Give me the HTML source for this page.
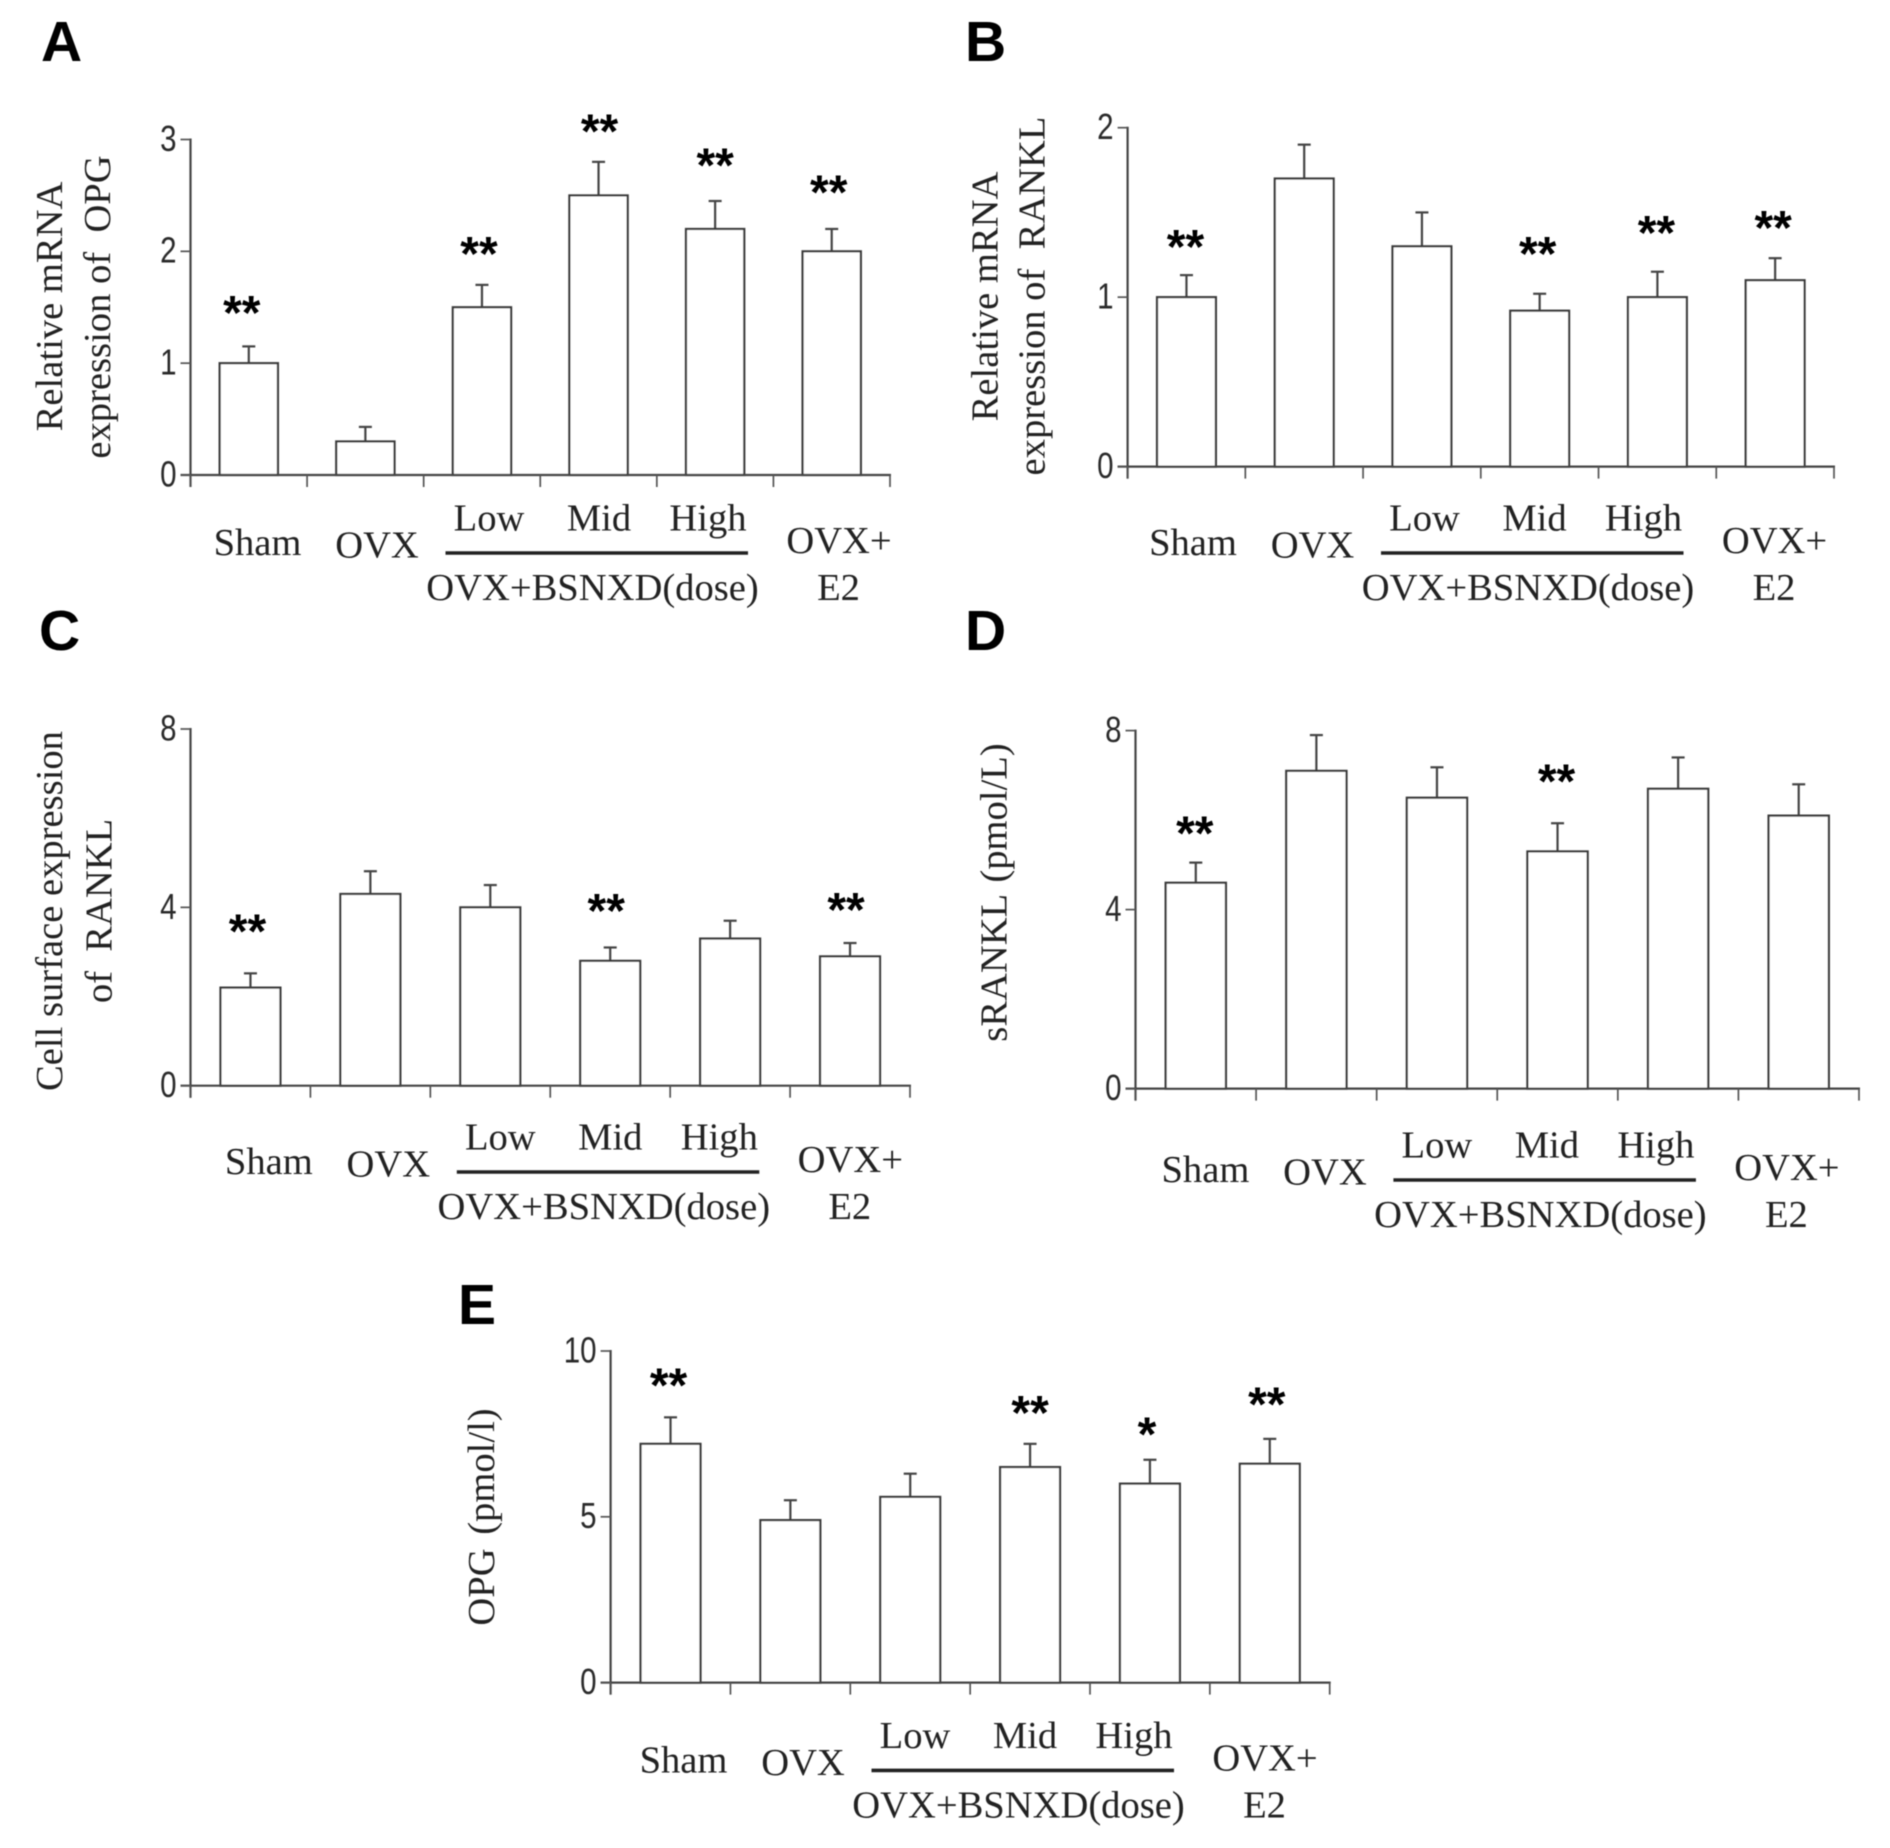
<!DOCTYPE html>
<html lang="en">
<head>
<meta charset="utf-8">
<title>OPG and RANKL expression bar charts</title>
<style>
  html, body { margin: 0; padding: 0; background: #fff; }
  svg { display: block; }
  .serif { font-family: "Liberation Serif", serif; font-size: 38.6px; fill: #222; }
  .tick { font-family: "Liberation Sans", sans-serif; font-size: 36px; fill: #2a2a2a; text-anchor: end; }
  .letter { font-family: "Liberation Sans", sans-serif; font-size: 57px; font-weight: bold; fill: #000; }
  .star { font-family: "Liberation Sans", sans-serif; font-size: 48px; font-weight: bold; fill: #000; text-anchor: middle; }
  .ax { stroke: #444; stroke-width: 2.2; fill: none; }
  .tk { stroke: #555; stroke-width: 1.7; fill: none; }
  .bar { stroke: #3a3a3a; stroke-width: 2.2; fill: #fff; }
</style>
</head>
<body>
<svg id="figure" xmlns="http://www.w3.org/2000/svg" width="1890" height="1848" viewBox="0 0 1890 1848">
  <defs><filter id="soft" x="-2%" y="-2%" width="104%" height="104%"><feGaussianBlur stdDeviation="0.65"/></filter></defs>
  <rect width="1890" height="1848" fill="#fff"/>
  <g id="root" filter="url(#soft)"></g>
</svg>
<script>
// Group names
const categories = ['Sham', 'OVX', 'Low', 'Mid', 'High', 'OVX+E2'];

// Panel A
const aValues = [1.0, 0.3, 1.5, 2.5, 2.2, 2.0];
const aErrors = [0.15, 0.13, 0.2, 0.3, 0.25, 0.2];
const aMarks = ['**', '', '**', '**', '**', '**'];
const aMarkLift = [0.36, null, 0.34, 0.335, 0.38, 0.39];
const aTicks = [0, 1, 2, 3];

// Panel B
const bValues = [1.0, 1.7, 1.3, 0.92, 1.0, 1.1];
const bErrors = [0.13, 0.2, 0.2, 0.1, 0.15, 0.13];
const bMarks = ['**', '', '', '**', '**', '**'];
const bMarkLift = [0.207, null, null, 0.275, 0.27, 0.22];
const bTicks = [0, 1, 2];

// Panel C
const cValues = [2.2, 4.3, 4.0, 2.8, 3.3, 2.9];
const cErrors = [0.32, 0.51, 0.5, 0.3, 0.4, 0.3];
const cMarks = ['**', '', '', '**', '', '**'];
const cMarkLift = [1.1, null, null, 0.97, null, 0.9];
const cTicks = [0, 4, 8];

// Panel D
const dValues = [4.6, 7.1, 6.5, 5.3, 6.7, 6.1];
const dErrors = [0.45, 0.8, 0.68, 0.63, 0.7, 0.7];
const dMarks = ['**', '', '', '**', '', ''];
const dMarkLift = [0.81, null, null, 1.09, null, null];
const dTicks = [0, 4, 8];

// Panel E
const eValues = [7.2, 4.9, 5.6, 6.5, 6.0, 6.6];
const eErrors = [0.8, 0.6, 0.7, 0.7, 0.72, 0.75];
const eMarks = ['**', '', '', '**', '*', '**'];
const eMarkLift = [1.17, null, null, 1.14, 0.98, 1.25];
const eTicks = [0, 5, 10];

const NS = 'http://www.w3.org/2000/svg';
const root = document.getElementById('root');

function add(parent, tag, props, text) {
  const el = document.createElementNS(NS, tag);
  for (const k in props) el.setAttribute(k, props[k]);
  if (text !== undefined) el.textContent = text;
  parent.appendChild(el);
  return el;
}

function drawPanel(p) {
  const g = add(root, 'g', {});
  
  

  const letter = add(g, 'text', { x: p.letterX, y: p.letterY, class: 'letter' }, p.id.toUpperCase());
  
  

  const yMax = p.ticks[p.ticks.length - 1];
  const yScale = v => p.y0 - (v / yMax) * (p.y0 - p.yTop);
  const band = (p.x1 - p.x0) / p.values.length;
  const xScale = i => p.x0 + band * (i + 0.5);
  const barW = band * 0.5;

  // bars and error bars
  p.values.forEach((v, i) => {
    const cx = xScale(i);
    const top = yScale(v + p.errors[i]);
    const stem = add(g, 'line', { x1: cx, x2: cx, y1: yScale(v), y2: top, class: 'ax' });
    
    
    const cap = add(g, 'line', { x1: cx - 6.5, x2: cx + 6.5, y1: top, y2: top, class: 'ax' });
    
    
    const bar = add(g, 'rect', { x: cx - barW / 2, y: yScale(v), width: barW, height: p.y0 - yScale(v), class: 'bar' });
    
    
    if (p.marks[i]) {
      const starCenter = yScale(v + p.errors[i] + p.lift[i]);
      const star = add(g, 'text', { x: cx + p.markShift[i], y: starCenter + 23, class: 'star' }, p.marks[i]);
      
      
    }
  });

  // axes
  const yAxis = add(g, 'line', { x1: p.x0, x2: p.x0, y1: p.yTop - 1, y2: p.y0 + 12, class: 'ax' });
  
  
  const xAxis = add(g, 'line', { x1: p.x0 - 10, x2: p.x1 + 1, y1: p.y0, y2: p.y0, class: 'ax' });
  
  

  for (let i = 0; i <= p.values.length; i++) {
    const tx = p.x0 + band * i;
    const xt = add(g, 'line', { x1: tx, x2: tx, y1: p.y0, y2: p.y0 + 12, class: 'tk' });
    
    
  }
  p.ticks.forEach(t => {
    const ty = yScale(t);
    const yt = add(g, 'line', { x1: p.x0 - 10, x2: p.x0, y1: ty, y2: ty, class: 'tk' });
    
    
    const lab = add(g, 'text', {
      class: 'tick',
      transform: 'translate(' + (p.x0 - 14) + ',' + (ty + 11.4) + ') scale(0.82,1)'
    }, String(t));
    
    
  });

  // y titles
  p.titles.forEach(tt => {
    const title = add(g, 'text', {
      class: 'serif', 'text-anchor': 'middle', 'word-spacing': tt.gap || 0,
      transform: 'translate(' + tt.x + ',' + tt.y + ') rotate(-90)'
    }, tt.text);
    
    
  });

  // x group labels
  const lx = p.labelX, ly = p.labelY;
  [
    ['Sham', 67, 80, 'x-label-sham'],
    ['OVX', 186.5, 82.5, 'x-label-ovx'],
    ['Low', 298.5, 55.5, 'x-label-low'],
    ['Mid', 408.5, 55.5, 'x-label-mid'],
    ['High', 517.5, 55.5, 'x-label-high'],
    ['OVX+BSNXD(dose)', 402, 125, 'x-label-dose-group'],
    ['OVX+', 648.5, 78, 'x-label-ovx-plus'],
    ['E2', 648, 125, 'x-label-e2']
  ].forEach(d => {
    const t = add(g, 'text', { x: lx + d[1], y: ly + d[2], class: 'serif', 'text-anchor': 'middle' }, d[0]);
    
    
  });
  const rule = add(g, 'line', { x1: lx + 255, x2: lx + 557.5, y1: ly + 78, y2: ly + 78, stroke: '#222', 'stroke-width': 3.6 });
  
  
}

drawPanel({
  id: 'a', values: aValues, errors: aErrors, marks: aMarks, lift: aMarkLift, ticks: aTicks,
  x0: 190.5, x1: 890, y0: 475, yTop: 139.5, markShift: [-7, 0, -3, 1, 0, -3],
  letterX: 41, letterY: 61, labelX: 190.5, labelY: 475,
  titles: [
    { x: 62, y: 306.5, text: 'Relative mRNA' },
    { x: 110, y: 307, text: 'expression of \u00a0OPG' }
  ]
});
drawPanel({
  id: 'b', values: bValues, errors: bErrors, marks: bMarks, lift: bMarkLift, ticks: bTicks,
  x0: 1127.6, x1: 1834, y0: 466.6, yTop: 127.7, markShift: [-1, 0, 0, -2, -1, -2],
  letterX: 965, letterY: 61, labelX: 1126, labelY: 475,
  titles: [
    { x: 997.4, y: 296.5, text: 'Relative mRNA' },
    { x: 1044.5, y: 296, text: 'expression of \u00a0RANKL' }
  ]
});
drawPanel({
  id: 'c', values: cValues, errors: cErrors, marks: cMarks, lift: cMarkLift, ticks: cTicks,
  x0: 190.5, x1: 910, y0: 1085.7, yTop: 729, markShift: [-3, 0, 0, -4, 0, -4],
  letterX: 39, letterY: 650, labelX: 201.8, labelY: 1094,
  titles: [
    { x: 62, y: 911, text: 'Cell surface expression' },
    { x: 111.5, y: 911, text: 'of \u00a0RANKL' }
  ]
});
drawPanel({
  id: 'd', values: dValues, errors: dErrors, marks: dMarks, lift: dMarkLift, ticks: dTicks,
  x0: 1135.5, x1: 1859, y0: 1088.6, yTop: 730.6, markShift: [-1, 0, 0, -1, 0, 0],
  letterX: 965, letterY: 650, labelX: 1138.4, labelY: 1102,
  titles: [
    { x: 1006.5, y: 892.5, text: 'sRANKL (pmol/L)', gap: 3 }
  ]
});
drawPanel({
  id: 'e', values: eValues, errors: eErrors, marks: eMarks, lift: eMarkLift, ticks: eTicks,
  x0: 610.6, x1: 1329.7, y0: 1682.6, yTop: 1351, markShift: [-2, 0, 0, 0, -3, -3],
  letterX: 458, letterY: 1324, labelX: 616.5, labelY: 1692.4,
  titles: [
    { x: 494, y: 1517, text: 'OPG (pmol/l)', gap: 4 }
  ]
});
</script>
</body>
</html>
